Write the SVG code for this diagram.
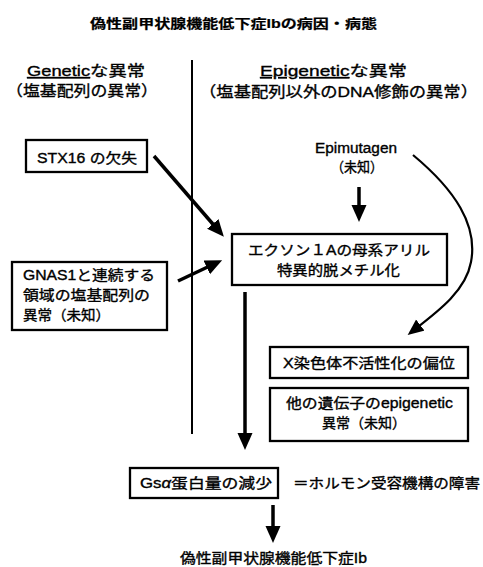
<svg xmlns="http://www.w3.org/2000/svg" width="483" height="567" viewBox="0 0 483 567">
<style>
text{font-family:"Liberation Sans","Noto Sans CJK JP",sans-serif;fill:#000;stroke:#000;stroke-width:0.35;}
.t{font-size:13px;font-weight:bold;stroke-width:0.2;}
.h{font-size:15px;}
.n{font-size:14px;}
.box{fill:#fff;stroke:#000;stroke-width:2.3;}
.ar{stroke:#000;stroke-width:3.5;fill:none;}
.cv{stroke:#000;stroke-width:2.2;fill:none;}
.u{text-decoration:underline;}
</style>
<defs>
<marker id="ah" markerUnits="userSpaceOnUse" markerWidth="18" markerHeight="16" refX="8" refY="7.5" orient="auto">
<path d="M0,0 L17,7.5 L0,15 z" fill="#000"/>
</marker>
<marker id="ah2" markerUnits="userSpaceOnUse" markerWidth="18" markerHeight="16" refX="8" refY="7" orient="auto">
<path d="M0,0 L16,7 L0,14 z" fill="#000"/>
</marker>
</defs>
<rect width="483" height="567" fill="#fff"/>
<text class="t" x="90" y="28" textLength="287" lengthAdjust="spacingAndGlyphs">偽性副甲状腺機能低下症Ibの病因・病態</text>
<g id="headers">
<text class="h" x="27" y="76" textLength="118" lengthAdjust="spacingAndGlyphs"><tspan class="u">Genetic</tspan>な異常</text>
<text class="h" x="6" y="96" textLength="152" lengthAdjust="spacingAndGlyphs">（塩基配列の異常）</text>
<text class="h" x="260" y="76" textLength="147" lengthAdjust="spacingAndGlyphs"><tspan class="u">Epigenetic</tspan>な異常</text>
<text class="h" x="199" y="97" textLength="279" lengthAdjust="spacingAndGlyphs">（塩基配列以外のDNA修飾の異常）</text>
</g>
<g id="connectors">
<line x1="192" y1="60" x2="192" y2="434" stroke="#000" stroke-width="2"/>
<line class="ar" x1="154" y1="156" x2="218" y2="230" marker-end="url(#ah)"/>
<line class="ar" x1="178" y1="281" x2="214" y2="264" marker-end="url(#ah)"/>
<line class="ar" x1="359" y1="187" x2="359" y2="213" marker-end="url(#ah)"/>
<line class="ar" x1="245" y1="292" x2="245" y2="441" marker-end="url(#ah)"/>
<line class="ar" x1="273" y1="505" x2="273" y2="534" marker-end="url(#ah)"/>
<path class="cv" d="M413,155 C455,190 478,225 471,262 C466,290 440,310 414,330" marker-end="url(#ah2)"/>
</g>
<g id="stx16">
<rect class="box" x="26" y="140" width="121" height="32"/>
<text class="n" x="37" y="163" textLength="100" lengthAdjust="spacingAndGlyphs">STX16 の欠失</text>
</g>
<g id="gnas1">
<rect class="box" x="12" y="262" width="155" height="68"/>
<text class="n" x="23" y="280" textLength="132" lengthAdjust="spacingAndGlyphs">GNAS1と連続する</text>
<text class="n" x="23" y="300" textLength="127" lengthAdjust="spacingAndGlyphs">領域の塩基配列の</text>
<text class="n" x="23" y="320" textLength="87" lengthAdjust="spacingAndGlyphs">異常（未知）</text>
</g>
<g id="epimutagen">
<text class="n" x="315" y="153" textLength="82" lengthAdjust="spacingAndGlyphs">Epimutagen</text>
<text class="n" x="331" y="172" textLength="52" lengthAdjust="spacingAndGlyphs">（未知）</text>
</g>
<g id="exon1a">
<rect class="box" x="232" y="234" width="215" height="51"/>
<text class="n" x="248" y="255" textLength="182" lengthAdjust="spacingAndGlyphs">エクソン１Aの母系アリル</text>
<text class="n" x="277" y="275" textLength="123" lengthAdjust="spacingAndGlyphs">特異的脱メチル化</text>
</g>
<g id="xinact">
<rect class="box" x="270" y="347" width="198" height="31"/>
<text class="n" x="283" y="368" textLength="172" lengthAdjust="spacingAndGlyphs">X染色体不活性化の偏位</text>
</g>
<g id="other">
<rect class="box" x="270" y="388" width="198" height="53"/>
<text class="n" x="286" y="408" textLength="167" lengthAdjust="spacingAndGlyphs">他の遺伝子のepigenetic</text>
<text class="n" x="322" y="428" textLength="84" lengthAdjust="spacingAndGlyphs">異常（未知）</text>
</g>
<g id="gsa">
<rect class="box" x="130" y="468" width="148" height="30"/>
<text class="n" x="140" y="488" textLength="132" lengthAdjust="spacingAndGlyphs">Gs<tspan font-style="italic">α</tspan>蛋白量の減少</text>
<text class="n" x="293" y="488" textLength="187" lengthAdjust="spacingAndGlyphs">＝ホルモン受容機構の障害</text>
</g>
<g id="result">
<text class="n" x="180" y="563" textLength="187" lengthAdjust="spacingAndGlyphs">偽性副甲状腺機能低下症Ib</text>
</g>
</svg>
